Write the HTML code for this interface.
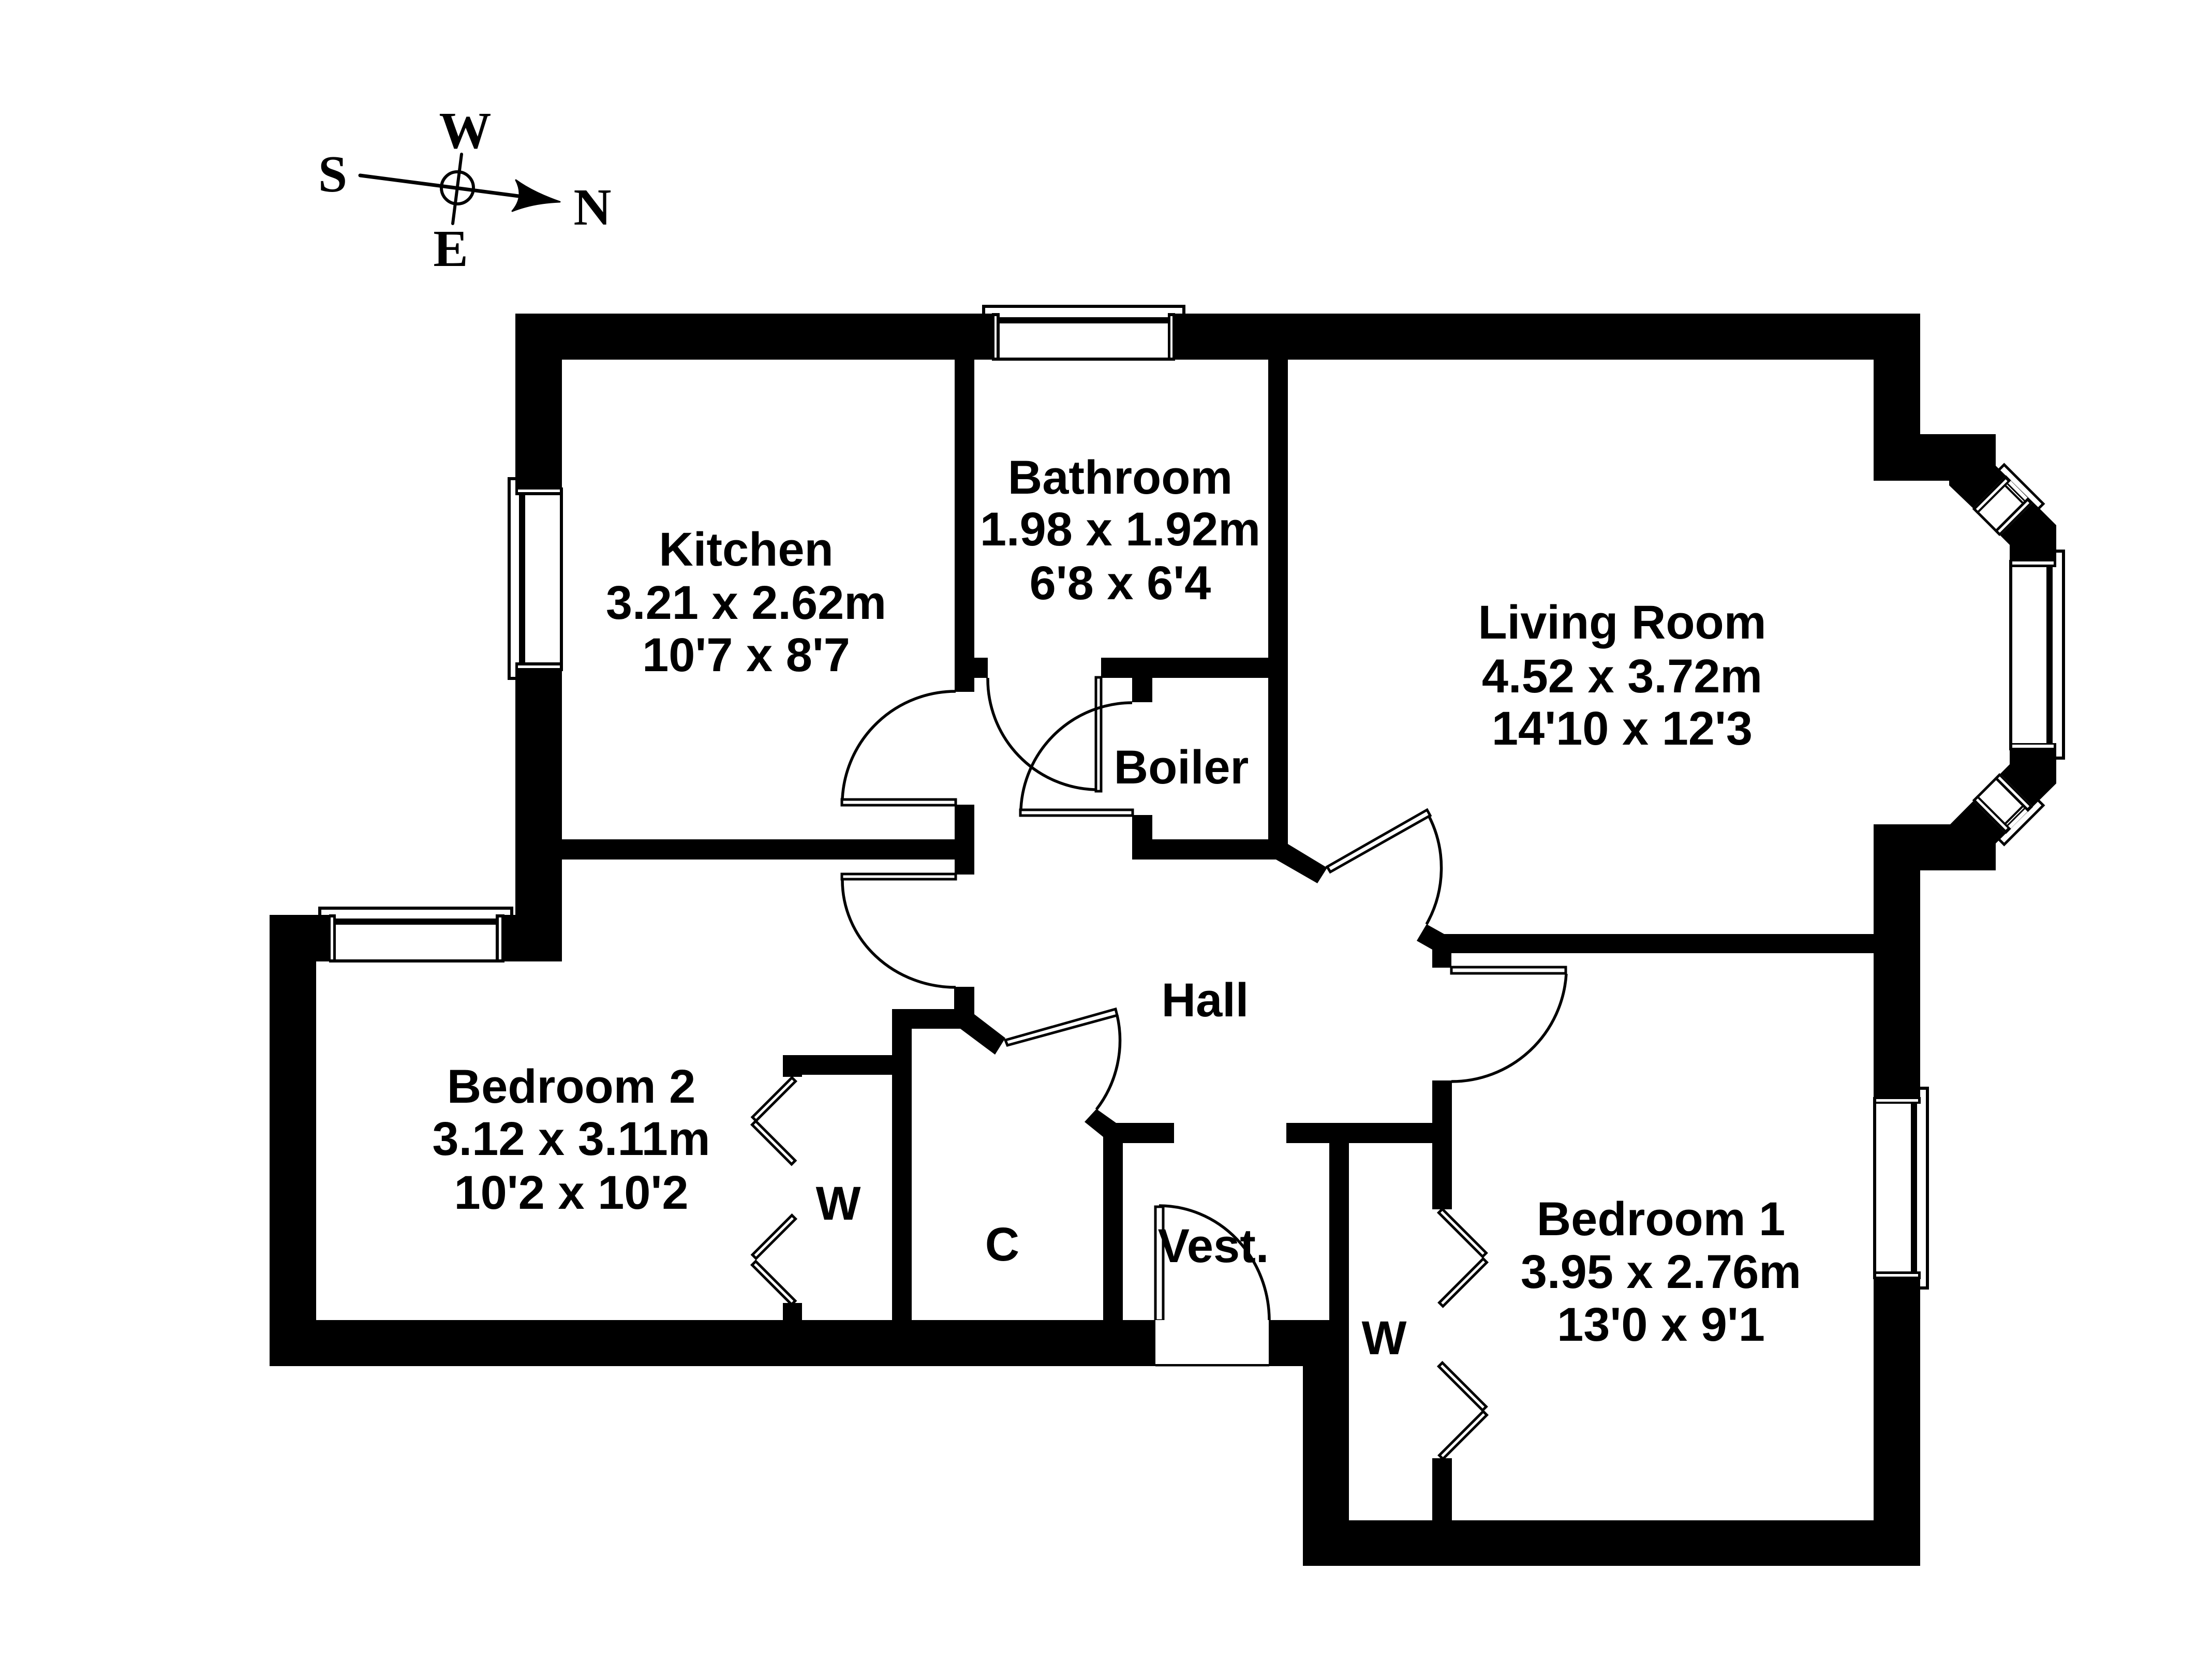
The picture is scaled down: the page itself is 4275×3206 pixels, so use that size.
<!DOCTYPE html>
<html>
<head>
<meta charset="utf-8">
<style>
html,body{margin:0;padding:0;background:#fff}
svg{display:block}
.t{font-family:"Liberation Sans",Arial,sans-serif;font-weight:bold;font-size:92px;text-anchor:middle;fill:#000}
.c{font-family:"Liberation Serif","Times New Roman",serif;font-weight:bold;font-size:101px;text-anchor:middle;fill:#000}
.l{fill:#fff;stroke:#000;stroke-width:5}
.a{fill:none;stroke:#000;stroke-width:5.5}
</style>
</head>
<body>
<svg xmlns="http://www.w3.org/2000/svg" width="4275" height="3206" viewBox="0 0 4275 3206">
<rect width="4275" height="3206" fill="#fff"/>

<!-- compass -->
<g stroke="#000" stroke-linecap="round" fill="none">
<line x1="696" y1="339" x2="1010" y2="380" stroke-width="7"/>
<line x1="892" y1="298" x2="875" y2="432" stroke-width="6"/>
<circle cx="884" cy="363" r="31" stroke-width="6"/>
</g>
<path d="M997,348 Q1030,372 1082,390 Q1030,392 990,408 Q1014,380 997,348Z" fill="#000" stroke="#000" stroke-width="3" stroke-linejoin="round"/>
<text class="c" x="643" y="370">S</text>
<text class="c" x="899" y="286">W</text>
<text class="c" x="1145" y="434">N</text>
<text class="c" x="871" y="514">E</text>

<!-- walls -->
<g fill="#000">
<!-- top wall -->
<rect x="996" y="606" width="2715" height="89"/>
<!-- kitchen left wall -->
<rect x="996" y="606" width="90" height="1252"/>
<!-- bedroom 2 top wall -->
<rect x="521" y="1768" width="565" height="90"/>
<!-- bedroom 2 left -->
<rect x="521" y="1768" width="90" height="872"/>
<!-- bottom wall -->
<rect x="521" y="2551" width="1712" height="89"/>
<rect x="2452" y="2551" width="155" height="89"/>
<rect x="2518" y="2551" width="89" height="475"/>
<rect x="2518" y="2938" width="1193" height="88"/>
<!-- right wall -->
<rect x="3621" y="606" width="90" height="323"/>
<rect x="3621" y="1593" width="90" height="1433"/>
<!-- bay upper -->
<polygon points="3711,839 3857,839 3857,900 3944,985 3974,1015 3974,1082 3884,1082 3884,1053 3865,1034 3814,983 3767,938 3767,929 3621,929 3621,839"/>
<!-- bay lower -->
<polygon points="3711,1682 3857,1682 3857,1630 3974,1514 3974,1450 3884,1450 3884,1477 3769,1593 3621,1593 3621,1682"/>
<!-- kitchen right wall -->
<rect x="1845" y="695" width="38" height="642"/>
<rect x="1883" y="1271" width="26" height="39"/>
<rect x="1845" y="1555" width="38" height="135"/>
<rect x="1086" y="1622" width="797" height="39"/>
<!-- bathroom right / boiler -->
<rect x="2451" y="695" width="38" height="966"/>
<rect x="2128" y="1271" width="361" height="39"/>
<rect x="2188" y="1310" width="39" height="47"/>
<rect x="2188" y="1575" width="39" height="86"/>
<rect x="2188" y="1622" width="301" height="39"/>
<polygon points="2489,1631 2565,1677 2546,1707 2466,1661 2451,1661 2451,1631"/>
<!-- living / bedroom 1 dividing -->
<polygon points="2757,1786 2791,1805 3621,1805 3621,1842 2805,1842 2805,1870 2768,1870 2768,1835 2738,1818"/>
<rect x="2768" y="2088" width="38" height="249"/>
<rect x="2768" y="2818" width="38" height="120"/>
<!-- hall lower -->
<rect x="2486" y="2170" width="282" height="39"/>
<rect x="2569" y="2170" width="38" height="400"/>
<polygon points="2119,2143 2157,2170 2269,2170 2269,2209 2170,2209 2170,2551 2132,2551 2132,2197 2096,2168"/>
<!-- cupboard -->
<polygon points="1844,1907 1883,1907 1883,1960 1943,2006 1923,2038 1856,1988 1762,1988 1762,2551 1724,2551 1724,1950 1844,1950"/>
<!-- wardrobe bed 2 -->
<rect x="1513" y="2039" width="211" height="38"/>
<rect x="1513" y="2039" width="37" height="42"/>
<rect x="1513" y="2518" width="37" height="33"/>
</g>

<!-- top window -->
<g>
<rect x="1917" y="606" width="354" height="89" fill="#fff"/>
<path d="M1901,606 V592 H2288 V606" fill="none" stroke="#000" stroke-width="6"/>
<rect x="1932" y="613" width="325" height="12" fill="#000"/>
<rect x="1917" y="691" width="354" height="6" fill="#000"/>
<rect x="1917" y="605" width="15" height="92" fill="#000"/>
<rect x="2257" y="605" width="14" height="92" fill="#000"/>
<rect x="1922" y="611" width="4" height="80" fill="#fff"/>
<rect x="2262" y="611" width="4" height="80" fill="#fff"/>
</g>

<!-- bedroom 2 window -->
<g>
<rect x="636" y="1768" width="339" height="91" fill="#fff"/>
<path d="M618,1768 V1755 H989 V1768" fill="none" stroke="#000" stroke-width="6"/>
<rect x="648" y="1775" width="310" height="12" fill="#000"/>
<rect x="636" y="1854" width="339" height="6" fill="#000"/>
<rect x="636" y="1767" width="13" height="93" fill="#000"/>
<rect x="958" y="1767" width="17" height="93" fill="#000"/>
<rect x="639" y="1773" width="5" height="81" fill="#fff"/>
<rect x="964" y="1773" width="5" height="81" fill="#fff"/>
</g>

<!-- kitchen window -->
<g>
<rect x="996" y="942" width="92" height="355" fill="#fff"/>
<path d="M996,925 H984 V1311 H996" fill="none" stroke="#000" stroke-width="6"/>
<rect x="1003" y="957" width="12" height="323" fill="#000"/>
<rect x="1082" y="942" width="6" height="355" fill="#000"/>
<rect x="996" y="942" width="92" height="15" fill="#000"/>
<rect x="996" y="1280" width="92" height="17" fill="#000"/>
<rect x="1001" y="946" width="81" height="5" fill="#fff"/>
<rect x="1001" y="1286" width="81" height="5" fill="#fff"/>
</g>

<!-- bedroom 1 window -->
<g>
<rect x="3620" y="2120" width="91" height="352" fill="#fff"/>
<path d="M3711,2103 H3725 V2489 H3711" fill="none" stroke="#000" stroke-width="6"/>
<rect x="3693" y="2133" width="12" height="324" fill="#000"/>
<rect x="3620" y="2120" width="6" height="352" fill="#000"/>
<rect x="3620" y="2120" width="92" height="13" fill="#000"/>
<rect x="3620" y="2457" width="92" height="15" fill="#000"/>
<rect x="3626" y="2124" width="81" height="5" fill="#fff"/>
<rect x="3626" y="2462" width="81" height="5" fill="#fff"/>
</g>

<!-- bay centre window -->
<g>
<rect x="3883" y="1082" width="91" height="368" fill="#fff"/>
<path d="M3974,1065 H3988 V1465 H3974" fill="none" stroke="#000" stroke-width="6"/>
<rect x="3955" y="1096" width="12" height="340" fill="#000"/>
<rect x="3883" y="1082" width="6" height="368" fill="#000"/>
<rect x="3883" y="1082" width="91" height="14" fill="#000"/>
<rect x="3883" y="1436" width="91" height="14" fill="#000"/>
<rect x="3889" y="1085" width="80" height="6" fill="#fff"/>
<rect x="3889" y="1439" width="80" height="6" fill="#fff"/>
</g>

<!-- bay upper diagonal window -->
<g transform="translate(3862,905) rotate(45)">
<rect x="20" y="0" width="74" height="91" fill="#fff"/>
<path d="M3,0 V-13 H110 V0" fill="none" stroke="#000" stroke-width="5"/>
<rect x="34" y="7" width="46" height="9" fill="#000"/>
<rect x="34" y="10" width="46" height="2" fill="#fff"/>
<rect x="20" y="86" width="74" height="5" fill="#000"/>
<rect x="20" y="-1" width="14" height="92" fill="#000"/>
<rect x="80" y="-1" width="14" height="92" fill="#000"/>
<rect x="25" y="5" width="5" height="81" fill="#fff"/>
<rect x="85" y="5" width="5" height="81" fill="#fff"/>
</g>
<!-- bay lower diagonal window -->
<g transform="translate(0,2530) scale(1,-1) translate(3862,905) rotate(45)">
<rect x="20" y="0" width="74" height="91" fill="#fff"/>
<path d="M3,0 V-13 H110 V0" fill="none" stroke="#000" stroke-width="5"/>
<rect x="34" y="7" width="46" height="9" fill="#000"/>
<rect x="34" y="10" width="46" height="2" fill="#fff"/>
<rect x="20" y="86" width="74" height="5" fill="#000"/>
<rect x="20" y="-1" width="14" height="92" fill="#000"/>
<rect x="80" y="-1" width="14" height="92" fill="#000"/>
<rect x="25" y="5" width="5" height="81" fill="#fff"/>
<rect x="85" y="5" width="5" height="81" fill="#fff"/>
</g>

<!-- doors -->
<rect class="l" x="1627" y="1545" width="220" height="11"/>
<path class="a" d="M1628,1543 A219 219 0 0 1 1847,1336"/>
<rect class="l" x="1627" y="1689" width="220" height="10"/>
<path class="a" d="M1628,1701 A219 207 0 0 0 1847,1908"/>
<rect class="l" x="2118" y="1309" width="10" height="220"/>
<path class="a" d="M1909,1310 A214 214 0 0 0 2116,1526"/>
<rect class="l" x="1972" y="1565" width="217" height="11"/>
<path class="a" d="M1973,1563 A216 216 0 0 1 2188,1358"/>
<rect class="l" x="2805" y="1869" width="221" height="12"/>
<path class="a" d="M3027,1882 A222 222 0 0 1 2805,2090"/>
<rect class="l" x="2233" y="2332" width="15" height="220"/>
<path class="a" d="M2240,2330 A213 222 0 0 1 2453,2552"/>
<line x1="2233" y1="2638" x2="2453" y2="2638" stroke="#000" stroke-width="5"/>
<rect x="2233" y="2551" width="219" height="85" fill="#fff"/>
<polygon class="l" points="1943,2010 2156,1950 2159,1962 1947,2020"/>
<path class="a" d="M2159,1962 A218 218 0 0 1 2119,2144"/>
<polygon class="l" points="2565,1675 2758,1565 2764,1576 2571,1685"/>
<path class="a" d="M2761,1576 A221 221 0 0 1 2757,1786"/>

<!-- wardrobe leaves bed 2 -->
<rect class="l" x="0" y="-5" width="108" height="10" transform="translate(1534,2086) rotate(135)"/>
<rect class="l" x="0" y="-5" width="108" height="10" transform="translate(1457,2170) rotate(45)"/>
<rect class="l" x="0" y="-5" width="108" height="10" transform="translate(1534,2352) rotate(135)"/>
<rect class="l" x="0" y="-5" width="108" height="10" transform="translate(1457,2441) rotate(45)"/>
<!-- wardrobe leaves bed 1 -->
<rect class="l" x="0" y="-5" width="120" height="10" transform="translate(2784,2340) rotate(45)"/>
<rect class="l" x="0" y="-5" width="120" height="10" transform="translate(2870,2436) rotate(135)"/>
<rect class="l" x="0" y="-5" width="120" height="10" transform="translate(2784,2637) rotate(45)"/>
<rect class="l" x="0" y="-5" width="120" height="10" transform="translate(2870,2731) rotate(135)"/>

<!-- labels -->
<text class="t" x="1442" y="1093">Kitchen</text>
<text class="t" x="1442" y="1196">3.21 x 2.62m</text>
<text class="t" x="1442" y="1297">10'7 x 8'7</text>
<text class="t" x="2165" y="954">Bathroom</text>
<text class="t" x="2165" y="1054">1.98 x 1.92m</text>
<text class="t" x="2165" y="1158">6'8 x 6'4</text>
<text class="t" x="3135" y="1234">Living Room</text>
<text class="t" x="3135" y="1338">4.52 x 3.72m</text>
<text class="t" x="3135" y="1439">14'10 x 12'3</text>
<text class="t" x="1104" y="2131">Bedroom 2</text>
<text class="t" x="1104" y="2232">3.12 x 3.11m</text>
<text class="t" x="1104" y="2336">10'2 x 10'2</text>
<text class="t" x="3210" y="2387">Bedroom 1</text>
<text class="t" x="3210" y="2489">3.95 x 2.76m</text>
<text class="t" x="3210" y="2591">13'0 x 9'1</text>
<text class="t" x="2283" y="1514">Boiler</text>
<text class="t" x="2329" y="1964">Hall</text>
<text class="t" x="1620" y="2357">W</text>
<text class="t" x="1937" y="2436">C</text>
<text class="t" x="2345" y="2439">Vest.</text>
<text class="t" x="2675" y="2617">W</text>
</svg>
</body>
</html>
